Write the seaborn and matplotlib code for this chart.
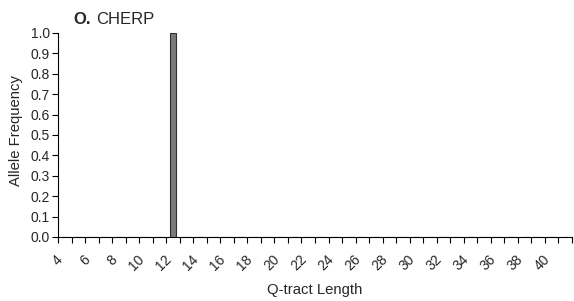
import matplotlib
matplotlib.use("Agg")
import matplotlib.pyplot as plt
import matplotlib.transforms as mtransforms
import seaborn as sns
import pandas as pd
import numpy as np

# Data
lengths = list(range(4, 42))
freqs = [0.0] * len(lengths)
freqs[lengths.index(12)] = 1.0
tick_labels = [str(v) if v % 2 == 0 and v <= 40 else "" for v in lengths]
yticks = [round(0.1 * i, 1) for i in range(11)]

sns.set_style("white")
plt.rcParams['font.family'] = ['Liberation Sans', 'DejaVu Sans']

df = pd.DataFrame({"len": [str(v) for v in lengths], "freq": freqs})

fig = plt.figure(figsize=(5.74, 3.01), dpi=100)
ax = fig.add_axes([58/574, 1 - 237/301, (572-58)/574, (237-33)/301])

sns.barplot(data=df, x="len", y="freq", order=[str(v) for v in lengths],
            color="#7a7a7a", edgecolor="#303030", linewidth=0.8, width=0.45,
            saturation=1, ax=ax)

ax.set_xlim(-0.5, len(lengths) - 0.5)
ax.set_ylim(0, 1.0)
ax.set_yticks(yticks)
ax.set_yticklabels([f"{v:.1f}" for v in yticks], fontsize=10)
ax.set_xticks(range(len(lengths)))
ax.set_xticklabels(tick_labels, rotation=45, ha="right", va="top",
                   rotation_mode="anchor", fontsize=10)
ax.set_xticks(np.arange(-0.5, len(lengths), 1.0), minor=True)
ax.tick_params(axis="x", which="major", length=0, pad=11)
ax.tick_params(axis="x", which="minor", length=4, width=0.8, direction="out", color="black", bottom=True)
ax.tick_params(axis="y", which="major", length=4, width=0.8, direction="out", color="black", pad=2, left=True)

offset = mtransforms.ScaledTranslation(-9/100, 0/100, fig.dpi_scale_trans)
for lab in ax.get_xticklabels():
    lab.set_transform(lab.get_transform() + offset)

for s in ["top", "right"]:
    ax.spines[s].set_visible(False)
for s in ["left", "bottom"]:
    ax.spines[s].set_color("black")
    ax.spines[s].set_linewidth(0.8)

ax.set_xlabel("Q-tract Length", fontsize=10.7)
ax.set_ylabel("Allele Frequency", fontsize=10.7)
ax.xaxis.set_label_coords(0.5, -0.225)
ax.yaxis.set_label_coords(-0.068, 0.52)

fig.text(73/574, 1 - 24/301, "O.", fontsize=12, fontweight="bold", ha="left", va="baseline")
fig.text(96/574, 1 - 24/301, "CHERP", fontsize=12, ha="left", va="baseline")

fig.savefig("out.png", dpi=100)
